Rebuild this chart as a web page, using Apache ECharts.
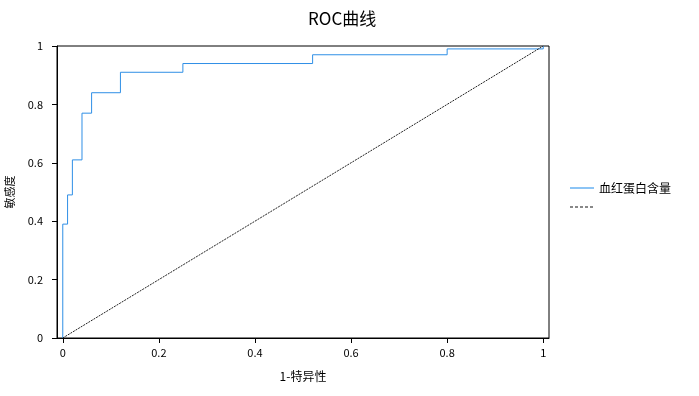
<!DOCTYPE html>
<html>
<head>
<meta charset="utf-8">
<script src="https://cdn.jsdelivr.net/npm/echarts@6/dist/echarts.min.js"></script>
<style>html,body{margin:0;padding:0;background:#fff}#c{width:699px;height:396px}</style>
</head>
<body>
<div id="c"></div>
<script>
var fpr = [0, 0, 0.01, 0.02, 0.04, 0.06, 0.12, 0.25, 0.52, 0.80, 1.0];
var tpr = [0, 0.39, 0.49, 0.61, 0.77, 0.84, 0.91, 0.94, 0.97, 0.99, 1.0];
var refX = [0, 1];
var refY = [0, 1];
var xTicks = [0, 0.2, 0.4, 0.6, 0.8, 1];
var seriesName = '血红蛋白含量';
var refName = ' ';

var font = '"Noto Sans CJK SC", "Noto Sans", sans-serif';
var chart = echarts.init(document.getElementById('c'));
chart.setOption({
  animation: false,
  backgroundColor: '#fff',
  title: {
    text: 'ROC曲线', left: 303, top: 5,
    textStyle: {fontSize: 17, fontWeight: 'normal', color: '#000', fontFamily: font}
  },
  legend: {
    orient: 'vertical', left: 564, top: 177, itemWidth: 24, itemHeight: 10, itemGap: 7,
    textStyle: {fontSize: 12, color: '#000', fontFamily: font},
    data: [
      {name: seriesName, itemStyle: {opacity: 0}, lineStyle: {color: '#8cc4f5', width: 2}},
      {name: refName, itemStyle: {opacity: 0}, lineStyle: {color: '#888', width: 2, type: [3, 2]}}
    ]
  },
  grid: {left: 57, right: 150, top: 46, bottom: 58, show: true, borderColor: '#000', borderWidth: 1,
         containLabel: false, outerBoundsMode: 'none'},
  xAxis: {
    type: 'value', min: -0.012, max: 1.012,
    name: '1-特异性', nameLocation: 'middle', nameGap: 32,
    nameTextStyle: {fontSize: 12, color: '#000', fontFamily: font},
    axisLine: {show: true, onZero: false, lineStyle: {color: '#000'}},
    axisTick: {show: true, length: 5, customValues: xTicks, lineStyle: {color: '#000'}},
    axisLabel: {customValues: xTicks, fontSize: 11, color: '#000', margin: 9, fontFamily: font},
    splitLine: {show: false}
  },
  yAxis: {
    type: 'value', min: 0, max: 1, interval: 0.2,
    name: '敏感度', nameLocation: 'middle', nameGap: 42,
    nameTextStyle: {fontSize: 11, color: '#000', fontFamily: font},
    axisLine: {show: true, onZero: false, lineStyle: {color: '#000'}},
    axisTick: {show: true, length: 5, lineStyle: {color: '#000'}},
    axisLabel: {fontSize: 11, color: '#000', margin: 14, fontFamily: font},
    splitLine: {show: false}
  },
  series: [
    {
      name: seriesName, type: 'line', step: 'end', symbol: 'none',
      lineStyle: {color: '#2f8fe6', width: 1}, itemStyle: {color: '#2f8fe6'},
      data: fpr.map(function (v, i) { return [v, tpr[i]]; })
    },
    {
      name: refName, type: 'line', symbol: 'none',
      lineStyle: {color: '#222', width: 1, type: [2, 1]}, itemStyle: {color: '#222'},
      data: refX.map(function (v, i) { return [v, refY[i]]; })
    }
  ]
});
</script>
</body>
</html>
